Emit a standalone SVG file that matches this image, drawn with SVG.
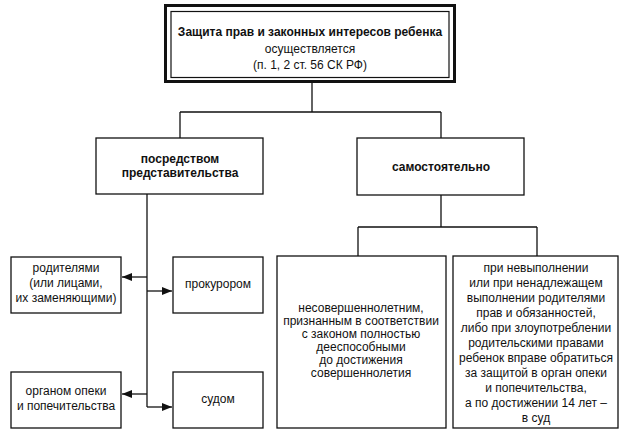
<svg xmlns="http://www.w3.org/2000/svg" width="624" height="432" viewBox="0 0 624 432">
<defs>
<style>
.box{fill:#fff;stroke:#111;stroke-width:1.3}
.ln{fill:none;stroke:#111;stroke-width:1.3}
text{font-family:"Liberation Sans",Arial,sans-serif;font-size:12px;fill:#111;text-anchor:middle}
.b{font-weight:bold}
</style>
<marker id="ah" markerWidth="10" markerHeight="8" refX="10" refY="4" orient="auto" markerUnits="userSpaceOnUse">
<path d="M0,0 L10,4 L0,8 Z" fill="#111"/>
</marker>
</defs>
<rect width="624" height="432" fill="#fff"/>
<g id="connectors">
<path class="ln" d="M312,83 V112 M180,112 H441 M180,112 V138 M441,112 V138"/>
<path class="ln" d="M147,194 V407"/>
<path class="ln" d="M147,277 H122" marker-end="url(#ah)"/>
<path class="ln" d="M147,291 H172" marker-end="url(#ah)"/>
<path class="ln" d="M147,394 H122" marker-end="url(#ah)"/>
<path class="ln" d="M147,407 H172" marker-end="url(#ah)"/>
<path class="ln" d="M441,195 V227 M358,227 H537 M358,227 V256 M537,227 V256"/>
</g>
<g id="root">
<rect x="165.5" y="5.5" width="289" height="76" fill="#fff" stroke="#111" stroke-width="3"/>
<rect x="171" y="11.5" width="278" height="66" fill="none" stroke="#111" stroke-width="1.2"/>
<text x="310" y="36" class="b">Защита прав и законных интересов ребенка</text>
<text x="310" y="53">осуществляется</text>
<text x="310" y="69">(п. 1, 2 ст. 56 СК РФ)</text>
</g>
<g id="representation">
<rect class="box" x="96" y="138" width="167" height="56"/>
<text x="180" y="163" class="b">посредством</text>
<text x="180" y="177" class="b">представительства</text>
</g>
<g id="independently">
<rect class="box" x="357" y="138" width="167" height="57"/>
<text x="441" y="171" class="b">самостоятельно</text>
</g>
<g id="parents">
<rect class="box" x="11" y="257" width="110" height="56"/>
<text x="66" y="272">родителями</text>
<text x="66" y="287">(или лицами,</text>
<text x="66" y="302">их заменяющими)</text>
</g>
<g id="prosecutor">
<rect class="box" x="173" y="257" width="90" height="56"/>
<text x="218" y="288">прокурором</text>
</g>
<g id="guardianship">
<rect class="box" x="11" y="372" width="110" height="56"/>
<text x="66" y="395">органом опеки</text>
<text x="66" y="410">и попечительства</text>
</g>
<g id="court">
<rect class="box" x="173" y="372" width="90" height="56"/>
<text x="218" y="403">судом</text>
</g>
<g id="minors">
<rect class="box" x="277" y="256" width="169" height="172"/>
<text x="361" y="312">несовершеннолетним,</text>
<text x="361" y="325">признанным в соответствии</text>
<text x="361" y="338">с законом полностью</text>
<text x="361" y="351">дееспособными</text>
<text x="361" y="364">до достижения</text>
<text x="361" y="377">совершеннолетия</text>
</g>
<g id="violation">
<rect class="box" x="453" y="256" width="165" height="172"/>
<text x="536" y="272">при невыполнении</text>
<text x="536" y="287">или при ненадлежащем</text>
<text x="536" y="302">выполнении родителями</text>
<text x="536" y="317">прав и обязанностей,</text>
<text x="536" y="332">либо при злоупотреблении</text>
<text x="536" y="347">родительскими правами</text>
<text x="536" y="362">ребенок вправе обратиться</text>
<text x="536" y="377">за защитой в орган опеки</text>
<text x="536" y="392">и попечительства,</text>
<text x="536" y="407">а по достижении 14 лет –</text>
<text x="536" y="422">в суд</text>
</g>
</svg>
